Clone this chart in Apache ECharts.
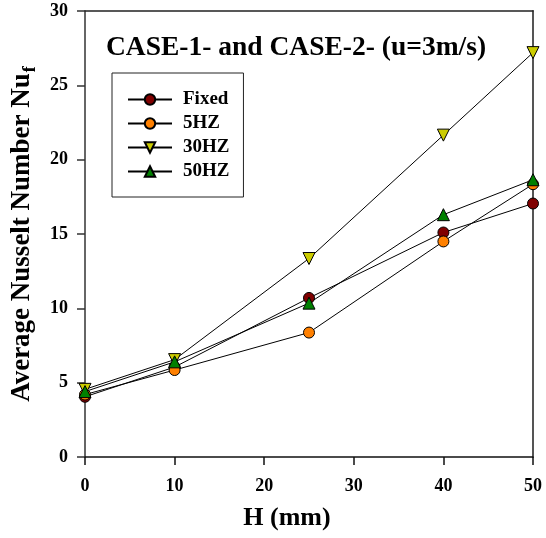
<!DOCTYPE html>
<html>
<head>
<meta charset="utf-8">
<script src="https://cdn.jsdelivr.net/npm/echarts@6/dist/echarts.min.js"></script>
<style>html,body{margin:0;padding:0;background:#fff}#c{width:546px;height:538px}</style>
</head>
<body>
<div id="c"></div>
<script>
const xValues = [0, 10, 25, 40, 50];
const fixedVals = [4.05, 6.05, 10.7, 15.1, 17.05];
const hz5Vals = [4.2, 5.85, 8.37, 14.5, 18.35];
const hz30Vals = [4.55, 6.55, 13.35, 21.65, 27.2];
const hz50Vals = [4.4, 6.4, 10.35, 16.3, 18.65];
const seriesNames = ['Fixed', '5HZ', '30HZ', '50HZ'];
const xTicks = [0, 10, 20, 30, 40, 50];
const yTicks = [0, 5, 10, 15, 20, 25, 30];

const FONT = "'Liberation Serif', 'Times New Roman', serif";
const pairs = v => xValues.map((x, i) => [x, v[i]]);

function mk(name, vals, symbol, color, size, rot) {
  return {
    name: name, type: 'line', data: pairs(vals),
    symbol: symbol, symbolSize: size, symbolRotate: rot || 0,
    lineStyle: {color: '#000', width: 1},
    itemStyle: {color: color, borderColor: '#000', borderWidth: 1},
    emphasis: {disabled: true}
  };
}

const chart = echarts.init(document.getElementById('c'), null, {renderer: 'canvas'});
chart.setOption({
  animation: false,
  backgroundColor: '#fff',
  title: {
    text: 'CASE-1- and CASE-2- (u=3m/s)', left: 106, top: 34, padding: 0,
    textStyle: {fontFamily: FONT, fontWeight: 'bold', fontSize: 27.5, color: '#000'}
  },
  legend: {
    orient: 'vertical', left: 112, top: 73,
    padding: [17, 14, 16, 15],
    itemGap: 5, itemWidth: 44, itemHeight: 13,
    borderColor: '#222', borderWidth: 1,
    data: seriesNames,
    textStyle: {fontFamily: FONT, fontWeight: 'bold', fontSize: 19, color: '#000', padding: [0, 0, 0, 6]}
  },
  grid: {left: 85, right: 13, top: 11, bottom: 81},
  xAxis: [{
    type: 'value', min: xTicks[0], max: xTicks[xTicks.length - 1], interval: 10,
    name: 'H (mm)', nameLocation: 'middle', nameGap: 48,
    nameTextStyle: {fontFamily: FONT, fontWeight: 'bold', fontSize: 26, color: '#000', padding: [0, 44, 0, 0]},
    axisLine: {lineStyle: {color: '#111', width: 1.5}},
    axisTick: {inside: false, length: 8, lineStyle: {color: '#111', width: 1.5}},
    axisLabel: {margin: 20, fontFamily: FONT, fontWeight: 'bold', fontSize: 18, color: '#000'},
    splitLine: {show: false}
  }, {
    type: 'value', position: 'top', min: 0, max: 50,
    axisLine: {show: true, onZero: false, lineStyle: {color: '#222', width: 1.5}},
    axisTick: {show: false}, axisLabel: {show: false}, splitLine: {show: false}
  }],
  yAxis: [{
    type: 'value', min: yTicks[0], max: yTicks[yTicks.length - 1], interval: 5,
    name: '{a|Average Nusselt Number Nu}{b|f}', nameLocation: 'middle', nameGap: 38, nameRotate: 90,
    nameTextStyle: {
      rich: {
        a: {fontFamily: FONT, fontWeight: 'bold', fontSize: 27, color: '#000', lineHeight: 27, verticalAlign: 'top'},
        b: {fontFamily: FONT, fontWeight: 'bold', fontSize: 18, color: '#000', lineHeight: 18, padding: [13, 0, 0, 1], verticalAlign: 'top'}
      }
    },
    axisLine: {show: true, lineStyle: {color: '#333', width: 1.5}},
    axisTick: {show: true, inside: false, length: 8, lineStyle: {color: '#333', width: 1.5}},
    axisLabel: {margin: 17, fontFamily: FONT, fontWeight: 'bold', fontSize: 18, color: '#000'},
    splitLine: {show: false}
  }, {
    type: 'value', position: 'right', min: 0, max: 30,
    axisLine: {show: true, onZero: false, lineStyle: {color: '#555', width: 2}},
    axisTick: {show: false}, axisLabel: {show: false}, splitLine: {show: false}
  }],
  series: [
    mk(seriesNames[0], fixedVals, 'circle', '#800000', 11),
    mk(seriesNames[1], hz5Vals, 'circle', '#ff8000', 11),
    mk(seriesNames[2], hz30Vals, 'triangle', '#cccc00', 12, 180),
    mk(seriesNames[3], hz50Vals, 'triangle', '#008000', 12)
  ]
});
</script>
</body>
</html>
